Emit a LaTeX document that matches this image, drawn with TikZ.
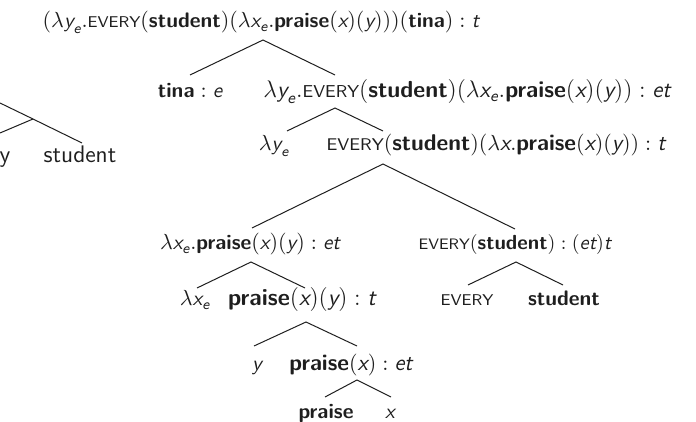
\documentclass[tikz,border=0pt]{standalone}
\usepackage{amsmath}
\usetikzlibrary{calc}
\definecolor{treeink}{HTML}{1E1E1E}
\makeatletter
\newcommand{\smallcaps}[1]{{\fontsize{\strip@pt\dimexpr .743\dimexpr\f@size pt\relax\relax}{10}\selectfont #1}}
\makeatother
\newcommand{\vr}[1]{\textit{#1}}
\newcommand{\cn}[1]{\textbf{#1}}
\newcommand{\EV}{\mbox{\smallcaps{EVERY}}}
\newcommand{\lx}[1]{\lambda\vr{#1}_{\vr{e}}}
\tikzset{
  semlabel/.style={font=\sffamily\fontsize{10.5}{12.6}\selectfont, text=treeink, inner sep=0pt, anchor=base},
  ptsize/.style={font=\sffamily\fontsize{#1}{14}\selectfont},
  fragtext/.style={font=\sffamily\large, text=treeink, inner sep=0pt, anchor=base},
  branch/.style={draw=treeink, line width=.5pt}
}

\begin{document}
\begin{tikzpicture}[x=.5pt,y=-.5pt]
  \useasboundingbox (0,0) rectangle (696,422);
  % piece of the neighbouring tree, cut by the page edge
  \node[fragtext] (fragy) at (5,163) {y};
  \node[fragtext] (fragstud) at (80,163) {student};
  \coordinate (fragj) at (33,119);
  \draw[branch] (0,103) -- (fragj) -- (82,143);
  \draw[branch] (0,133) -- (fragj);

  % the derivation tree
  \node[semlabel] (root) at (261,28)
    {$(\lx{y}.\EV(\cn{student})(\lx{x}.\cn{praise}(\vr{x})(\vr{y})))(\cn{tina}) : \vr{t}$};
  \node[semlabel] (tina) at (190,98) {$\cn{tina} : \vr{e}$};
  \node[semlabel, ptsize=11.6] (lamyevery) at (467,98)
    {$\lx{y}.\EV(\cn{student})(\lx{x}.\cn{praise}(\vr{x})(\vr{y})) : \vr{et}$};
  \node[semlabel] (lamy) at (274,151) {$\lx{y}$};
  \node[semlabel, ptsize=11.4] (everyfull) at (496,151)
    {$\EV(\cn{student})(\lambda\vr{x}.\cn{praise}(\vr{x})(\vr{y})) : \vr{t}$};
  \node[semlabel] (lamxpraise) at (250,250) {$\lx{x}.\cn{praise}(\vr{x})(\vr{y}) : \vr{et}$};
  \node[semlabel, ptsize=10.2] (everystud) at (515,250) {$\EV(\cn{student}) : (\vr{et})\vr{t}$};
  \node[semlabel] (lamx) at (195,306) {$\lx{x}$};
  \node[semlabel, ptsize=11.8] (praisexy) at (302,306) {$\cn{praise}(\vr{x})(\vr{y}) : \vr{t}$};
  \node[semlabel] (every) at (467,306) {\smallcaps{EVERY}};
  \node[semlabel] (student) at (564,306) {\cn{student}};
  \node[semlabel] (vary) at (257,370) {$\vr{y}$};
  \node[semlabel, ptsize=11.4] (praisex) at (351,370) {$\cn{praise}(\vr{x}) : \vr{et}$};
  \node[semlabel] (praise) at (326,418) {\cn{praise}};
  \node[semlabel] (varx) at (390,418) {$\vr{x}$};

  % branch points
  \path (263,40) coordinate (root-j)   (190,75) coordinate (tina-t)   (335,75) coordinate (lamyevery-t)
        (335,108) coordinate (lamyevery-j) (287,131) coordinate (lamy-t) (383,131) coordinate (everyfull-t)
        (383,164) coordinate (everyfull-j) (252,228) coordinate (lamxpraise-t) (515,229) coordinate (everystud-t)
        (251,262) coordinate (lamxpraise-j) (197,288) coordinate (lamx-t) (305,288) coordinate (praisexy-t)
        (516,262) coordinate (everystud-j) (468,285) coordinate (every-t) (563,285) coordinate (student-t)
        (306,322) coordinate (praisexy-j) (254,346) coordinate (vary-t) (357,346) coordinate (praisex-t)
        (357,380) coordinate (praisex-j) (325,397) coordinate (praise-t) (391,397) coordinate (varx-t);

  \draw[branch] (tina-t) -- (root-j) -- (lamyevery-t);
  \draw[branch] (lamy-t) -- (lamyevery-j) -- (everyfull-t);
  \draw[branch] (lamxpraise-t) -- (everyfull-j) -- (everystud-t);
  \draw[branch] (lamx-t) -- (lamxpraise-j) -- (praisexy-t);
  \draw[branch] (every-t) -- (everystud-j) -- (student-t);
  \draw[branch] (vary-t) -- (praisexy-j) -- (praisex-t);
  \draw[branch] (praise-t) -- (praisex-j) -- (varx-t);
\end{tikzpicture}
\end{document}
